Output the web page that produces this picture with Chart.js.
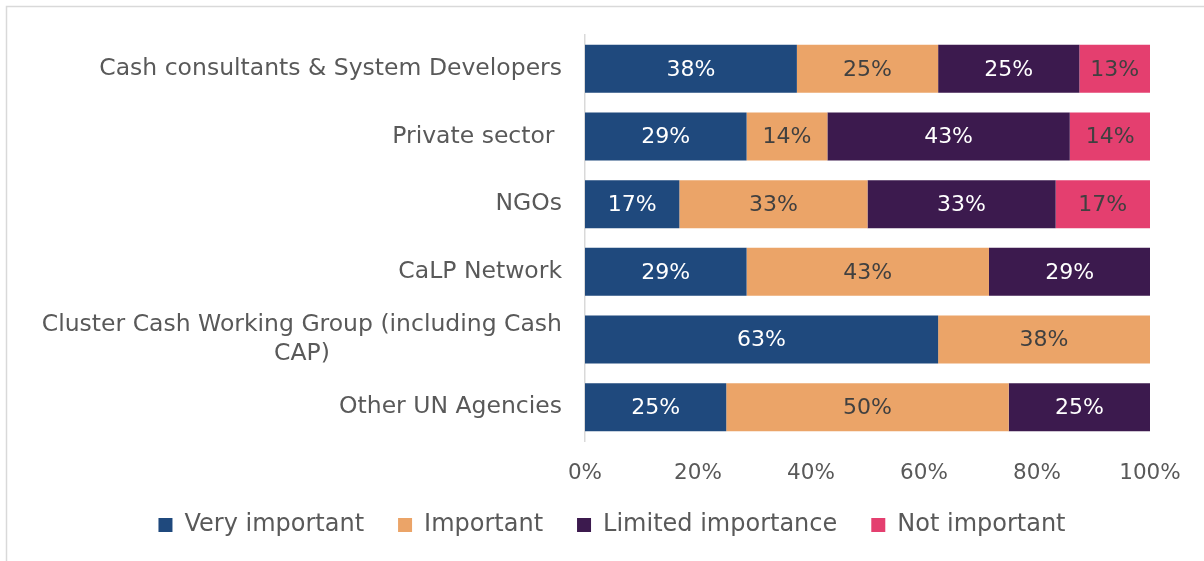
<!DOCTYPE html>
<html>
<head>
<meta charset="utf-8">
<script src="https://cdn.jsdelivr.net/npm/chart.js@4"></script>
<style>
html, body { margin: 0; padding: 0; background: #fff; }
#wrap { position: relative; width: 1204px; height: 561px; }
</style>
</head>
<body>
<div id="wrap"><canvas id="chart"></canvas></div>
<script>
// data (shares of respondents, %)
const categories = [
    'Cash consultants & System Developers',
    'Private sector ',
    'NGOs',
    'CaLP Network',
    ['Cluster Cash Working Group (including Cash', 'CAP)'],
    'Other UN Agencies'
];
const seriesNames = ['Very important', 'Important', 'Limited importance', 'Not important'];
const veryImportant = [37.5, 28.6, 16.7, 28.6, 62.5, 25];
const important = [25, 14.3, 33.3, 42.9, 37.5, 50];
const limitedImportance = [25, 42.9, 33.3, 28.6, 0, 25];
const notImportant = [12.5, 14.3, 16.7, 0, 0, 0];
const xTicks = [0, 20, 40, 60, 80, 100];

const colors = ['#1f497d', '#eba468', '#3c1a4e', '#e43f6f'];
const labelColors = ['#ffffff', '#404040', '#ffffff', '#404040'];
const font = 'DejaVu Sans';
const grey = '#595959';

// light frame round the chart
const framePlugin = {
    id: 'frame',
    beforeDraw(chart) {
        const ctx = chart.ctx;
        ctx.save();
        ctx.strokeStyle = '#d9d9d9';
        ctx.lineWidth = 1.5;
        ctx.beginPath();
        ctx.moveTo(6.5, chart.height);
        ctx.lineTo(6.5, 6.5);
        ctx.lineTo(chart.width, 6.5);
        ctx.stroke();
        ctx.restore();
    }
};

// category labels, right aligned, wrapped lines centred on each other
const categoryLabels = {
    id: 'categoryLabels',
    afterDraw(chart) {
        const ctx = chart.ctx;
        const y = chart.scales.y;
        ctx.save();
        ctx.font = `23.5px "${font}"`;
        ctx.fillStyle = grey;
        ctx.textAlign = 'center';
        ctx.textBaseline = 'middle';
        categories.forEach((c, i) => {
            const lines = Array.isArray(c) ? c : [c];
            const py = y.getPixelForValue(i);
            const w = Math.max(...lines.map(l => ctx.measureText(l).width));
            const cx = chart.chartArea.left - 23 - w / 2;
            lines.forEach((l, k) => {
                ctx.fillText(l, cx, py + (k - (lines.length - 1) / 2) * 29);
            });
        });
        ctx.restore();
    }
};

// percentage inside each segment
const valueLabels = {
    id: 'valueLabels',
    afterDatasetsDraw(chart) {
        const ctx = chart.ctx;
        ctx.save();
        ctx.font = `22px "${font}"`;
        ctx.textAlign = 'center';
        ctx.textBaseline = 'middle';
        chart.data.datasets.forEach((ds, di) => {
            const meta = chart.getDatasetMeta(di);
            meta.data.forEach((bar, i) => {
                const v = ds.data[i];
                if (!v) return;
                ctx.fillStyle = labelColors[di];
                ctx.fillText(Math.round(v) + '%', (bar.x + bar.base) / 2, bar.y + 1);
            });
        });
        ctx.restore();
    }
};

// move the legend to where it sits in the picture
const legendPlace = {
    id: 'legendPlace',
    afterUpdate(chart) {
        const l = chart.legend;
        const dx = 612 - (l.left + l.right) / 2;
        l.left += dx;
        l.right += dx;
        const pad = l.options.labels.padding;
        const dy = 525 - (l.top + pad + 12);
        l.top += dy;
        l.bottom += dy;
    }
};

const ctx = document.getElementById('chart').getContext('2d');
new Chart(ctx, {
    type: 'bar',
    data: {
        labels: categories,
        datasets: [veryImportant, important, limitedImportance, notImportant].map((d, i) => ({
            label: seriesNames[i],
            data: d,
            backgroundColor: colors[i],
            borderWidth: 0,
            categoryPercentage: 1,
            barPercentage: 0.71
        }))
    },
    options: {
        indexAxis: 'y',
        responsive: true,
        maintainAspectRatio: false,
        animation: false,
        layout: {
            padding: { top: 35, right: 54, bottom: -10, left: 0 }
        },
        scales: {
            x: {
                stacked: true,
                min: 0,
                max: 100,
                afterBuildTicks: s => { s.ticks = xTicks.map(v => ({ value: v })); },
                afterFit: s => { s.height = 62; },
                grid: { display: false, drawTicks: false },
                border: { display: false },
                ticks: {
                    padding: 20,
                    color: grey,
                    font: { family: font, size: 21.5 },
                    callback: v => v + '%'
                }
            },
            y: {
                stacked: true,
                afterFit: s => { s.width = 585; },
                grid: { display: false, drawTicks: false },
                border: { display: true, color: '#d9d9d9', width: 1.5 },
                ticks: { display: false }
            }
        },
        plugins: {
            legend: {
                position: 'bottom',
                labels: {
                    color: grey,
                    font: { family: font, size: 24 },
                    boxWidth: 14,
                    boxHeight: 14,
                    padding: 34
                }
            },
            tooltip: { enabled: false }
        }
    },
    plugins: [framePlugin, categoryLabels, valueLabels, legendPlace]
});
</script>
</body>
</html>
